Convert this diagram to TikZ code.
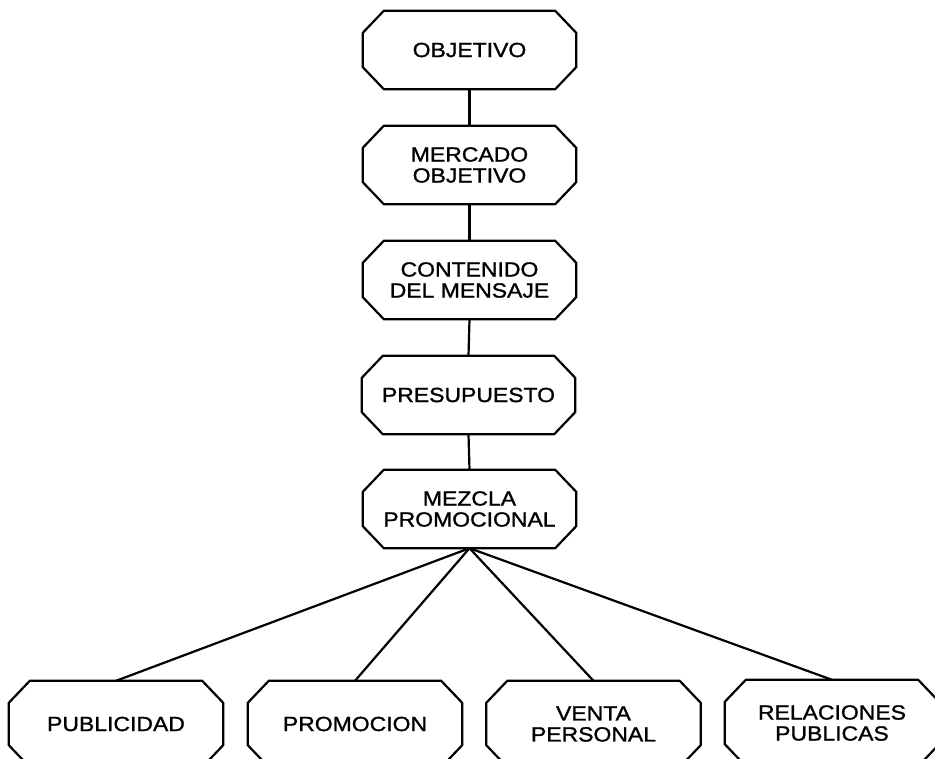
\documentclass[tikz,border=0pt]{standalone}
\usepackage{fontspec}
\setmainfont{Liberation Sans}[FakeStretch=1.12,FakeBold=1.2]
\begin{document}
\begin{tikzpicture}[x=1pt,y=-1pt,
  boxline/.style={line width=2.2pt,line join=miter},
  conn/.style={line width=2.2pt},
  stage/.style={shape=rectangle,draw=none,minimum width=213pt,minimum height=78pt,inner sep=0pt,align=center,font=\fontsize{20.5}{21}\selectfont},
  leaf/.style={stage,minimum width=214pt,minimum height=86pt}]
\useasboundingbox (0,0) rectangle (935,759);
\newcommand\octagon[1]{\draw[boxline] ([xshift=21pt]#1.north west) -- ([xshift=-21pt]#1.north east) -- ([yshift=-22pt]#1.north east) -- ([yshift=22pt]#1.south east) -- ([xshift=-21pt]#1.south east) -- ([xshift=21pt]#1.south west) -- ([yshift=22pt]#1.south west) -- ([yshift=-22pt]#1.north west) -- cycle;}
\node[stage] (obj) at (469.5,50) {OBJETIVO};
\node[stage] (mer) at (469.5,165) {MERCADO\\OBJETIVO};
\node[stage] (con) at (469.5,280) {CONTENIDO\\DEL MENSAJE};
\node[stage] (pre) at (468.5,395) {PRESUPUESTO};
\node[stage] (mez) at (469.5,509) {MEZCLA\\PROMOCIONAL};
\node[leaf] (pub) at (116,724) {PUBLICIDAD};
\node[leaf] (pro) at (355,724) {PROMOCION};
\node[leaf] (ven) at (593.5,724) {VENTA\\PERSONAL};
\node[leaf] (rel) at (832,723) {RELACIONES\\PUBLICAS};
\foreach \n in {obj,mer,con,pre,mez,pub,pro,ven,rel} {\octagon{\n}}
\draw[conn] (obj.south) -- (mer.north);
\draw[conn] (mer.south) -- (con.north);
\draw[conn] (con.south) -- (pre.north);
\draw[conn] (pre.south) -- (mez.north);
\foreach \n in {pub,pro,ven,rel} {\draw[conn] (mez.south) -- (\n.north);}
\end{tikzpicture}
\end{document}
